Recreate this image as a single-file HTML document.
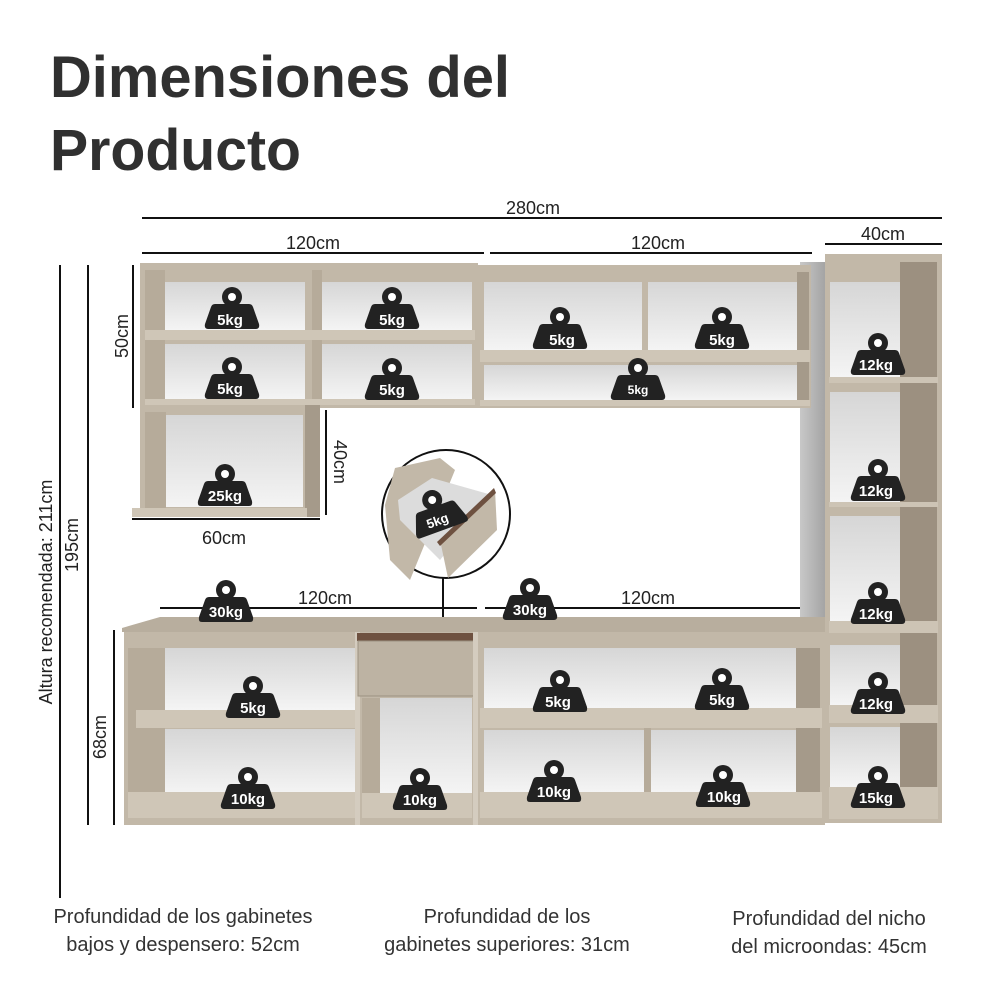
<!DOCTYPE html>
<html><head><meta charset="utf-8"><style>
html,body{margin:0;padding:0;background:#fff;width:1000px;height:1000px;overflow:hidden}
svg{display:block}
text{font-family:"Liberation Sans",Arial,sans-serif}
</style></head><body>
<svg width="1000" height="1000" viewBox="0 0 1000 1000" xmlns="http://www.w3.org/2000/svg">
<defs>
<linearGradient id="bk" x1="0" y1="0" x2="0" y2="1"><stop offset="0" stop-color="#d6d6d6"/><stop offset="1" stop-color="#f4f4f4"/></linearGradient>
<linearGradient id="gs" x1="0" y1="0" x2="1" y2="0"><stop offset="0" stop-color="#c8c8c8"/><stop offset="1" stop-color="#a4a4a4"/></linearGradient>
<g id="wt">
<circle cx="0" cy="-17" r="10" fill="#222"/>
<path d="M-17,-10 L17,-10 Q20,-10 21,-7 L27,10 Q28,15 24,15 L-24,15 Q-28,15 -27,10 L-21,-7 Q-20,-10 -17,-10Z" fill="#222"/>
<circle cx="0" cy="-17" r="4" fill="#fff"/>
</g>
</defs>

<text x="50" y="97" font-size="58" font-weight="bold" fill="#303030" textLength="460" lengthAdjust="spacingAndGlyphs">Dimensiones del</text>
<text x="50" y="170" font-size="58" font-weight="bold" fill="#303030" textLength="251" lengthAdjust="spacingAndGlyphs">Producto</text>

<g stroke="#111" stroke-width="2">
<line x1="142" y1="218" x2="942" y2="218"/>
<line x1="142" y1="253" x2="484" y2="253"/>
<line x1="490" y1="253" x2="812" y2="253"/>
<line x1="825" y1="244" x2="942" y2="244"/>
<line x1="133" y1="265" x2="133" y2="408"/>
<line x1="326" y1="410" x2="326" y2="515"/>
<line x1="132" y1="519" x2="320" y2="519"/>
<line x1="88" y1="265" x2="88" y2="825"/>
<line x1="60" y1="265" x2="60" y2="898"/>
<line x1="114" y1="630" x2="114" y2="825"/>
<line x1="160" y1="608" x2="477" y2="608"/>
<line x1="485" y1="608" x2="800" y2="608"/>
<line x1="443" y1="578" x2="443" y2="675"/>
</g>
<g font-size="18" fill="#222" text-anchor="middle">
<text x="533" y="214">280cm</text>
<text x="313" y="249">120cm</text>
<text x="658" y="249">120cm</text>
<text x="883" y="240">40cm</text>
<text x="224" y="544">60cm</text>
<text x="325" y="604">120cm</text>
<text x="648" y="604">120cm</text>
<text transform="translate(128,336) rotate(-90)">50cm</text>
<text transform="translate(334,462) rotate(90)">40cm</text>
<text transform="translate(78,545) rotate(-90)">195cm</text>
<text transform="translate(52,592) rotate(-90)">Altura recomendada: 211cm</text>
<text transform="translate(106,737) rotate(-90)">68cm</text>
</g>

<rect x="800" y="262" width="25" height="360" fill="url(#gs)"/>

<rect x="140" y="263" width="338" height="145" fill="#c2b8a8"/>
<rect x="165" y="282" width="140" height="48" fill="url(#bk)"/>
<rect x="322" y="282" width="150" height="48" fill="url(#bk)"/>
<rect x="165" y="344" width="140" height="55" fill="url(#bk)"/>
<rect x="322" y="344" width="150" height="55" fill="url(#bk)"/>
<rect x="145" y="270" width="20" height="132" fill="#b6ab9a"/>
<rect x="312" y="270" width="10" height="132" fill="#b6ab9a"/>
<rect x="145" y="330" width="330" height="10" fill="#cfc6b7"/>
<rect x="145" y="399" width="330" height="6" fill="#cfc6b7"/>
<rect x="140" y="405" width="180" height="112" fill="#c2b8a8"/>
<rect x="305" y="405" width="15" height="112" fill="#a59a8a"/>
<rect x="166" y="415" width="137" height="92" fill="url(#bk)"/>
<rect x="145" y="412" width="21" height="98" fill="#b6ab9a"/>
<rect x="132" y="508" width="175" height="9" fill="#cfc6b7"/>

<rect x="478" y="265" width="333" height="143" fill="#c2b8a8"/>
<rect x="484" y="282" width="158" height="68" fill="url(#bk)"/>
<rect x="648" y="282" width="150" height="68" fill="url(#bk)"/>
<rect x="484" y="365" width="314" height="35" fill="url(#bk)"/>
<rect x="797" y="272" width="12" height="130" fill="#a59a8a"/>
<rect x="480" y="350" width="330" height="12" fill="#cfc6b7"/>
<rect x="480" y="400" width="330" height="6" fill="#cfc6b7"/>

<rect x="825" y="254" width="117" height="569" fill="#c2b8a8"/>
<rect x="830" y="282" width="72" height="95" fill="url(#bk)"/>
<rect x="830" y="392" width="72" height="110" fill="url(#bk)"/>
<rect x="830" y="516" width="72" height="105" fill="url(#bk)"/>
<rect x="830" y="645" width="72" height="60" fill="url(#bk)"/>
<rect x="830" y="727" width="72" height="60" fill="url(#bk)"/>
<rect x="900" y="262" width="37" height="555" fill="#9c9080"/>
<g fill="#cdc4b5">
<rect x="829" y="377" width="109" height="6"/>
<rect x="829" y="502" width="109" height="5"/>
<rect x="829" y="621" width="109" height="12"/>
<rect x="829" y="705" width="109" height="18"/>
<rect x="829" y="787" width="109" height="32"/>
</g>

<path d="M122,628 L160,617 L825,617 L825,632 L122,632Z" fill="#b8ae9e"/>
<rect x="124" y="632" width="701" height="193" fill="#c2b8a8"/>
<rect x="165" y="648" width="190" height="62" fill="url(#bk)"/>
<rect x="165" y="729" width="190" height="65" fill="url(#bk)"/>
<rect x="128" y="648" width="37" height="170" fill="#b6ab9a"/>
<rect x="136" y="710" width="219" height="18" fill="#cfc6b7"/>
<rect x="128" y="792" width="227" height="26" fill="#cfc6b7"/>
<rect x="355" y="632" width="5" height="193" fill="#d4ccbf"/>
<rect x="357" y="633" width="117" height="8" fill="#6e5140"/>
<rect x="358" y="641" width="116" height="55" fill="#bdb3a3" stroke="#9c9282" stroke-width="1"/>
<rect x="380" y="698" width="92" height="95" fill="url(#bk)"/>
<rect x="362" y="698" width="18" height="120" fill="#b6ab9a"/>
<rect x="362" y="793" width="110" height="25" fill="#cfc6b7"/>
<rect x="473" y="632" width="5" height="193" fill="#d4ccbf"/>
<rect x="484" y="648" width="312" height="60" fill="url(#bk)"/>
<rect x="484" y="730" width="160" height="62" fill="url(#bk)"/>
<rect x="651" y="730" width="145" height="62" fill="url(#bk)"/>
<rect x="796" y="648" width="24" height="170" fill="#a59a8a"/>
<rect x="480" y="708" width="342" height="20" fill="#cfc6b7"/>
<rect x="644" y="728" width="7" height="90" fill="#b6ab9a"/>
<rect x="480" y="792" width="342" height="26" fill="#cfc6b7"/>

<circle cx="446" cy="514" r="64" fill="#fff" stroke="#111" stroke-width="2"/>
<path d="M385,505 L395,468 L440,458 L455,470 L410,580 L390,560Z" fill="#c2b8a8"/>
<path d="M398,500 L432,478 L492,495 L440,560 L400,520Z" fill="#dcdcdc"/>
<path d="M440,540 L495,490 L497,530 L448,578Z" fill="#c2b8a8"/>
<path d="M437,542 L494,488 L496,493 L440,546Z" fill="#6e5140"/>

<g>
<use href="#wt" x="232" y="314"/><use href="#wt" x="392" y="314"/>
<use href="#wt" x="560" y="334"/><use href="#wt" x="722" y="334"/>
<use href="#wt" x="232" y="384"/><use href="#wt" x="392" y="385"/>
<use href="#wt" x="638" y="385"/>
<use href="#wt" x="225" y="491"/>
<use href="#wt" x="878" y="360"/><use href="#wt" x="878" y="486"/>
<use href="#wt" x="878" y="609"/><use href="#wt" x="878" y="699"/>
<use href="#wt" x="878" y="793"/>
<use href="#wt" x="226" y="607"/><use href="#wt" x="530" y="605"/>
<use href="#wt" x="253" y="703"/><use href="#wt" x="560" y="697"/><use href="#wt" x="722" y="695"/>
<use href="#wt" x="248" y="794"/><use href="#wt" x="420" y="795"/>
<use href="#wt" x="554" y="787"/><use href="#wt" x="723" y="792"/>
<use href="#wt" transform="translate(438,516) rotate(-20)"/>
</g>
<g font-size="15" font-weight="bold" fill="#fff" text-anchor="middle">
<text x="230" y="325">5kg</text><text x="392" y="325">5kg</text>
<text x="562" y="345">5kg</text><text x="722" y="345">5kg</text>
<text x="230" y="394">5kg</text><text x="392" y="395">5kg</text>
<text x="638" y="394" font-size="12">5kg</text>
<text x="225" y="501">25kg</text>
<text x="876" y="370">12kg</text><text x="876" y="496">12kg</text>
<text x="876" y="619">12kg</text><text x="876" y="709">12kg</text>
<text x="876" y="803">15kg</text>
<text x="226" y="617">30kg</text><text x="530" y="615">30kg</text>
<text x="253" y="713">5kg</text><text x="558" y="707">5kg</text><text x="722" y="705">5kg</text>
<text x="248" y="804">10kg</text><text x="420" y="805">10kg</text>
<text x="554" y="797">10kg</text><text x="724" y="802">10kg</text>
<text transform="translate(439,525) rotate(-20)" font-size="13">5kg</text>
</g>

<g font-size="20" fill="#333" text-anchor="middle">
<text x="183" y="923">Profundidad de los gabinetes</text>
<text x="183" y="951">bajos y despensero: 52cm</text>
<text x="507" y="923">Profundidad de los</text>
<text x="507" y="951">gabinetes superiores: 31cm</text>
<text x="829" y="925">Profundidad del nicho</text>
<text x="829" y="953">del microondas: 45cm</text>
</g>
</svg>
</body></html>
